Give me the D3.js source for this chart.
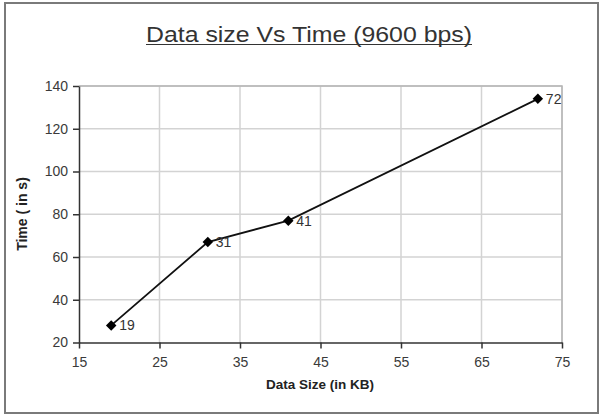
<!DOCTYPE html>
<html>
<head>
<meta charset="utf-8">
<script src="https://cdn.jsdelivr.net/npm/d3@7"></script>
<style>
  body { margin: 0; background: #fff; }
  svg text { font-family: "Liberation Sans", Arial, sans-serif; }
</style>
</head>
<body>
<div id="chart"></div>
<script>
// data
const sizes = [19, 31, 41, 72];          // Data Size (in KB)
const times = [28, 67, 77, 134];         // Time (in s)
const xTicks = [15, 25, 35, 45, 55, 65, 75];
const yTicks = [20, 40, 60, 80, 100, 120, 140];

const W = 604, H = 417;
const margin = { top: 86, right: 42, bottom: 74.5, left: 79 };
const width = W - margin.left - margin.right,
      height = H - margin.top - margin.bottom;

const svg = d3.select("#chart").append("svg")
    .attr("width", W)
    .attr("height", H);

// outer chart border
svg.append("rect")
    .attr("x", 5).attr("y", 3)
    .attr("width", 593).attr("height", 410)
    .attr("fill", "none")
    .attr("stroke", "#7a7a7a")
    .attr("stroke-width", 2);

// title
svg.append("text")
    .attr("x", 309).attr("y", 42)
    .attr("text-anchor", "middle")
    .attr("font-size", 22)
    .attr("fill", "#333")
    .attr("textLength", 326)
    .attr("lengthAdjust", "spacingAndGlyphs")
    .text("Data size Vs Time (9600 bps)");
svg.append("line")
    .attr("x1", 146).attr("x2", 472)
    .attr("y1", 44.5).attr("y2", 44.5)
    .attr("stroke", "#333").attr("stroke-width", 1);

const g = svg.append("g")
    .attr("transform", `translate(${margin.left},${margin.top})`);

const x = d3.scaleLinear().domain([15, 75]).range([0, width]);
const y = d3.scaleLinear().domain([20, 140]).range([height, 0]);

// grid
g.append("g")
    .selectAll("line")
    .data(xTicks.slice(1))
    .enter().append("line")
    .attr("x1", d => x(d)).attr("x2", d => x(d))
    .attr("y1", 0).attr("y2", height)
    .attr("stroke", "#d3d3d3").attr("stroke-width", 1.5);
g.append("g")
    .selectAll("line")
    .data(yTicks.slice(1))
    .enter().append("line")
    .attr("x1", 0).attr("x2", width)
    .attr("y1", d => y(d)).attr("y2", d => y(d))
    .attr("stroke", "#d3d3d3").attr("stroke-width", 1.5);

// plot area border (top / right)
g.append("path")
    .attr("d", `M0,0H${width}V${height}`)
    .attr("fill", "none")
    .attr("stroke", "#b5b5b5").attr("stroke-width", 1.5);

// axes
const xAxis = g.append("g")
    .attr("transform", `translate(0,${height})`)
    .call(d3.axisBottom(x).tickValues(xTicks).tickSize(6).tickPadding(9).tickSizeOuter(0));
const yAxis = g.append("g")
    .call(d3.axisLeft(y).tickValues(yTicks).tickSize(6).tickPadding(5).tickSizeOuter(0));

[xAxis, yAxis].forEach(a => {
    a.select(".domain").attr("stroke", "#333").attr("stroke-width", 1.5);
    a.selectAll(".tick line").attr("stroke", "#333").attr("stroke-width", 1.5);
    a.selectAll(".tick text")
        .attr("font-size", 14)
        .attr("fill", "#3a3a3a")
        .style("font-family", "'Liberation Sans', Arial, sans-serif");
});

// axis titles
svg.append("text")
    .attr("x", 320).attr("y", 389)
    .attr("text-anchor", "middle")
    .attr("font-size", 13.5)
    .attr("font-weight", "bold")
    .attr("fill", "#222")
    .text("Data Size (in KB)");
svg.append("text")
    .attr("transform", "translate(27,214)rotate(-90)")
    .attr("text-anchor", "middle")
    .attr("font-size", 14)
    .attr("font-weight", "bold")
    .attr("fill", "#222")
    .text("Time ( in s)");

// series
const pts = sizes.map((s, i) => ({ s: s, t: times[i] }));

g.append("path")
    .datum(pts)
    .attr("d", d3.line().x(d => x(d.s)).y(d => y(d.t)))
    .attr("fill", "none")
    .attr("stroke", "#111")
    .attr("stroke-width", 1.8);

g.selectAll("path.mark")
    .data(pts)
    .enter().append("path")
    .attr("class", "mark")
    .attr("transform", d => `translate(${x(d.s)},${y(d.t)})`)
    .attr("d", d3.symbol().type(d3.symbolDiamond2).size(70))
    .attr("fill", "#000");

g.selectAll("text.lbl")
    .data(pts)
    .enter().append("text")
    .attr("class", "lbl")
    .attr("x", d => x(d.s) + 8)
    .attr("y", d => y(d.t))
    .attr("dy", "0.36em")
    .attr("font-size", 14)
    .attr("fill", "#333")
    .text(d => d.s);
</script>
</body>
</html>
